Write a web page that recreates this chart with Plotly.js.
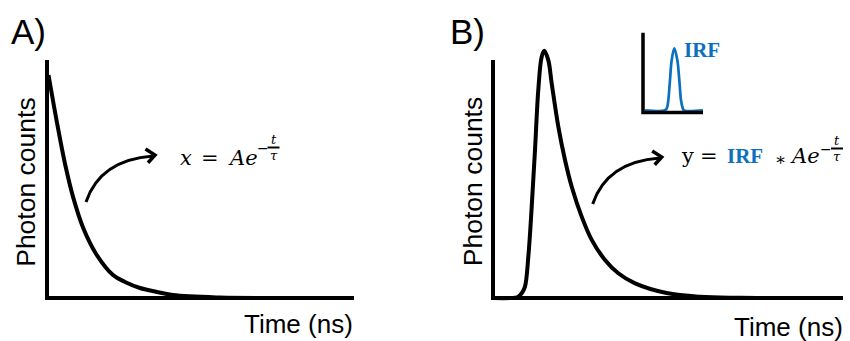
<!DOCTYPE html>
<html>
<head>
<meta charset="utf-8">
<script src="https://cdn.plot.ly/plotly-3.0.1.min.js"></script>
<style>
  html, body { margin: 0; padding: 0; background: #fff; }
  #chart { width: 850px; height: 341px; }
</style>
</head>
<body>
<div id="chart"></div>
<script>
// Panel A: pure exponential decay of the fluorescence (arbitrary time units, normalised counts)
const decayTime   = [0.05, 0.32, 0.59, 0.86, 1.18, 1.62, 2.15, 2.54, 3.03, 3.52, 4.10, 5.64, 7.5, 10];
const decayCounts = [1.00, 0.79, 0.60, 0.448, 0.314, 0.193, 0.103, 0.072, 0.045, 0.029, 0.013, 0.002, 0, 0];

// Panel B: measured decay = IRF convolved with the exponential
const measTime   = [0, 0.49, 0.71, 0.82, 0.914, 1.009, 1.106, 1.20, 1.294, 1.391, 1.466, 1.58, 1.677,
                    1.866, 2.057, 2.249, 2.534, 2.82, 3.20, 3.58, 4.06, 4.96, 5.91, 7.06, 10];
const measCounts = [0, 0, 0.004, 0.019, 0.046, 0.167, 0.369, 0.598, 0.841, 0.976, 1.00, 0.962, 0.868,
                    0.693, 0.558, 0.450, 0.329, 0.235, 0.154, 0.100, 0.059, 0.020, 0.005, 0.001, 0];

// Inset: instrument response function
const irfTime   = [0.33, 3.67, 4.0, 4.22, 4.5, 4.78, 5.22, 5.72, 6.05, 6.33, 6.6, 6.83, 10];
const irfCounts = [0, 0, 0.04, 0.166, 0.49, 0.81, 1.00, 0.81, 0.49, 0.166, 0.04, 0, 0];

// Text
const panelLabels = ['A)', 'B)'];
const yLabel = 'Photon counts';
const xLabel = 'Time (ns)';
const irfLabel = 'IRF';

const W = 850, H = 341;
const BLUE = '#0b70c0';
const px = v => v / W;
const py = v => 1 - v / H;

// Subplot frame from a pixel box and the pixel position / scale of the data origin
function frame(box, x0px, xUnitPx, y0px, yUnitPx) {
  return {
    xdomain: [box[0] / W, box[2] / W],
    ydomain: [1 - box[3] / H, 1 - box[1] / H],
    xrange: [(box[0] - x0px) / xUnitPx, (box[2] - x0px) / xUnitPx],
    yrange: [(y0px - box[3]) / yUnitPx, (y0px - box[1]) / yUnitPx]
  };
}
const fA = frame([35, 45, 365, 310], 47, 30.7, 298, 223);
const fB = frame([483, 38, 850, 310], 493, 35, 298, 247.3);
const fI = frame([633, 25, 712, 120], 643, 6, 110.3, 62);

function hidden(f, which, anchor) {
  return {
    domain: f[which + 'domain'], range: f[which + 'range'], anchor: anchor,
    visible: false, fixedrange: true
  };
}

const traces = [
  { x: decayTime, y: decayCounts, xaxis: 'x', yaxis: 'y', mode: 'lines',
    line: { color: '#000', width: 4, shape: 'spline' }, hoverinfo: 'skip' },
  { x: measTime, y: measCounts, xaxis: 'x2', yaxis: 'y2', mode: 'lines',
    line: { color: '#000', width: 4, shape: 'spline' }, hoverinfo: 'skip' },
  { x: irfTime, y: irfCounts, xaxis: 'x3', yaxis: 'y3', mode: 'lines',
    line: { color: BLUE, width: 2.7, shape: 'spline' }, hoverinfo: 'skip' }
];

// Curved pointer arrow starting at pixel (sx, sy)
function arrowShapes(sx, sy) {
  const p = (x, y) => px(x).toFixed(5) + ',' + py(y).toFixed(5);
  return [
    { type: 'path', xref: 'paper', yref: 'paper',
      path: 'M ' + p(sx, sy) + ' Q ' + p(sx + 14, sy - 42) + ' ' + p(sx + 67, sy - 46),
      line: { color: '#000', width: 3 } },
    { type: 'path', xref: 'paper', yref: 'paper',
      path: 'M ' + p(sx + 59.5, sy - 53) + ' L ' + p(sx + 69, sy - 47) + ' L ' + p(sx + 62, sy - 39.3),
      line: { color: '#000', width: 3.5 } }
  ];
}
function barShape(x0, x1, y) {
  return { type: 'line', xref: 'paper', yref: 'paper', x0: px(x0), x1: px(x1), y0: py(y), y1: py(y),
           line: { color: '#000', width: 2 } };
}

const shapes = [
  { type: 'path', xref: 'x', yref: 'y', path: 'M 0,1.067 L 0,0 L 10,0', line: { color: '#000', width: 4 } },
  { type: 'path', xref: 'x2', yref: 'y2', path: 'M 0,0.962 L 0,0 L 10,0', line: { color: '#000', width: 4 } },
  { type: 'path', xref: 'x3', yref: 'y3', path: 'M 0,1.252 L 0,-0.035 L 10,-0.035', line: { color: '#000', width: 3.5 } },
  ...arrowShapes(86, 202),
  ...arrowShapes(592.7, 204),
  barShape(267.5, 279.5, 147.5),
  barShape(831, 843, 148.5)
];

// Text annotation centred at pixel (cx, cy)
function txt(text, cx, cy, size, family, extra) {
  return Object.assign({
    text: text, xref: 'paper', yref: 'paper', x: px(cx), y: py(cy),
    xanchor: 'center', yanchor: 'middle', showarrow: false,
    font: { family: family, size: size, color: '#000' }
  }, extra || {});
}
const SANS = 'Liberation Sans, Arial, sans-serif';
const SERIF = 'DejaVu Serif, serif';
const BSERIF = 'Liberation Serif, serif';
const tight = { borderpad: 0 };

// Stacked t / τ exponent: baseline offsets from the fraction bar
const FR = 13;
const tMid = bar => bar - 3.5 - 0.346 * FR;
const tauMid = bar => bar + 12.5 - 0.346 * FR;

const annotations = [
  txt(panelLabels[0], 28.5, 31.9, 35, SANS),
  txt(panelLabels[1], 468, 31.9, 35, SANS),
  txt(yLabel, 25.8, 182, 26.5, SANS, { textangle: -90 }),
  txt(yLabel, 472.5, 181.7, 26.5, SANS, { textangle: -90 }),
  txt(xLabel, 298.5, 324.3, 26, SANS),
  txt(xLabel, 788.5, 326.5, 26, SANS),
  txt('<b>' + irfLabel + '</b>', 702, 50.2, 21, BSERIF, { font: { family: BSERIF, size: 21, color: BLUE } }),

  // x = A e^(-t/τ)
  txt('<i>x</i>', 186.3, 157.7, 21, SERIF),
  txt('=', 210, 157.7, 21, SERIF),
  txt('<i>Ae</i>', 242.5, 157.7, 21, SERIF),
  txt('\u2212', 263, 147.5, 14, SERIF, tight),
  txt('<i>t</i>', 274, tMid(147.5), FR, SERIF, tight),
  txt('<i>\u03c4</i>', 273.5, tauMid(147.5), FR, SERIF, tight),

  // y = IRF ∗ A e^(-t/τ)
  txt('y', 687.5, 156.2, 21, SERIF),
  txt('=', 708.7, 156.2, 21, SERIF),
  txt('<b>' + irfLabel + '</b>', 745, 156.4, 21, BSERIF, { font: { family: BSERIF, size: 21, color: BLUE } }),
  txt('\u2217', 780.8, 158.5, 17, SERIF),
  txt('<i>Ae</i>', 804.5, 156.2, 21, SERIF),
  txt('\u2212', 826, 148.5, 14, SERIF, tight),
  txt('<i>t</i>', 836.5, tMid(148.5), FR, SERIF, tight),
  txt('<i>\u03c4</i>', 837, tauMid(148.5), FR, SERIF, tight)
];

const layout = {
  width: W, height: H,
  margin: { l: 0, r: 0, t: 0, b: 0 },
  paper_bgcolor: '#fff', plot_bgcolor: 'rgba(0,0,0,0)',
  showlegend: false,
  xaxis: hidden(fA, 'x', 'y'), yaxis: hidden(fA, 'y', 'x'),
  xaxis2: hidden(fB, 'x', 'y2'), yaxis2: hidden(fB, 'y', 'x2'),
  xaxis3: hidden(fI, 'x', 'y3'), yaxis3: hidden(fI, 'y', 'x3'),
  shapes: shapes,
  annotations: annotations
};

Plotly.newPlot('chart', traces, layout, { staticPlot: true, displayModeBar: false });
</script>
</body>
</html>
